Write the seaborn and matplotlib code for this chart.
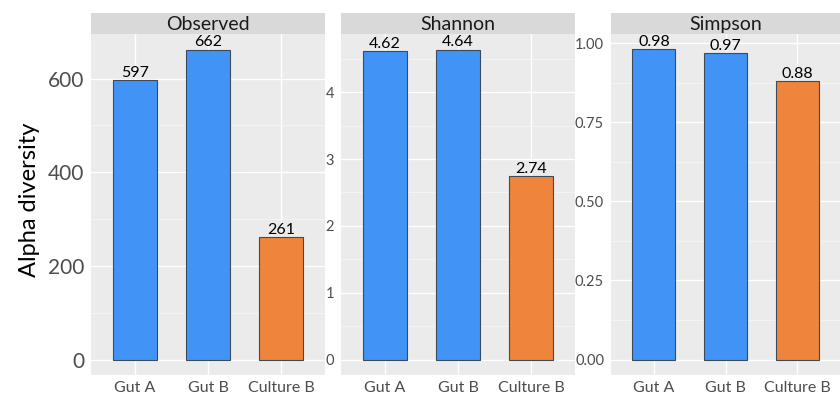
import pandas as pd
import matplotlib.pyplot as plt
import seaborn as sns
from matplotlib.ticker import AutoMinorLocator

# Values.
samples = ["Gut A", "Gut B", "Culture B"]
source = ["Gut", "Gut", "Culture"]
observed = [597, 662, 261]
shannon = [4.62, 4.64, 2.74]
simpson = [0.98, 0.97, 0.88]

metrics = ["Observed", "Shannon", "Simpson"]
values = {"Observed": observed, "Shannon": shannon, "Simpson": simpson}
label_fmt = {"Observed": "{:.0f}", "Shannon": "{:.2f}", "Simpson": "{:.2f}"}
yticks = {"Observed": [0, 200, 400, 600],
          "Shannon": [0, 1, 2, 3, 4],
          "Simpson": [0, 0.25, 0.5, 0.75, 1.0]}
ytick_fmt = {"Observed": "{:.0f}", "Shannon": "{:.0f}", "Simpson": "{:.2f}"}
ytick_size = {"Observed": 15, "Shannon": 10.5, "Simpson": 10.5}

palette = {"Gut": "#4194F6", "Culture": "#EF843C"}

sns.set_theme(style="darkgrid")
plt.rcParams['font.family'] = ['Lato', 'DejaVu Sans']

fig = plt.figure(figsize=(8.4, 3.96), dpi=100)

# panel positions in pixels (left, right)
panels = [(91, 325), (341, 575), (611, 840)]
H, W = 396, 840
bottom_px, top_px, strip_top = 375, 34, 13

for (x0, x1), metric in zip(panels, metrics):
    ax = fig.add_axes([x0 / W, 1 - bottom_px / H, (x1 - x0) / W, (bottom_px - top_px) / H])
    df = pd.DataFrame({"sample": samples, "source": source, "value": values[metric]})
    sns.barplot(data=df, x="sample", y="value", hue="source", palette=palette,
                dodge=False, width=0.6, saturation=1, edgecolor="#3C4A5A",
                linewidth=0.8, legend=False, ax=ax, order=samples)
    ax.set_facecolor("#EBEBEB")
    vmax = max(values[metric])
    ax.set_ylim(-0.05 * vmax, 1.05 * vmax)
    ax.set_xlim(-0.6, 2.6)
    ax.set_yticks(yticks[metric])
    ax.set_yticklabels([ytick_fmt[metric].format(t) for t in yticks[metric]])
    ax.yaxis.set_minor_locator(AutoMinorLocator(2))
    ax.grid(which="major", color="white", linewidth=1.0)
    ax.grid(which="minor", axis="y", color="#F5F5F5", linewidth=0.6)
    ax.set_axisbelow(True)
    for s in ax.spines.values():
        s.set_visible(False)
    ax.tick_params(axis="both", which="major", length=3, color="#4D4D4D",
                   labelcolor="#4D4D4D", pad=2)
    ax.tick_params(axis="y", which="minor", length=0)
    ax.tick_params(axis="y", labelsize=ytick_size[metric])
    ax.tick_params(axis="x", labelsize=11.5, pad=1)
    ax.set_xlabel("")
    ax.set_ylabel("")
    for i, v in enumerate(values[metric]):
        ax.text(i, v, label_fmt[metric].format(v), ha="center", va="bottom",
                fontsize=11.5, color="black")

    # facet strip
    sax = fig.add_axes([x0 / W, 1 - top_px / H, (x1 - x0) / W, (top_px - strip_top) / H])
    sax.set_facecolor("#D9D9D9")
    sax.set_xticks([])
    sax.set_yticks([])
    for s in sax.spines.values():
        s.set_visible(False)
    sax.text(0.5, 0.45, metric, ha="center", va="center", fontsize=14,
             color="#1A1A1A", transform=sax.transAxes)

fig.text(30 / W, 1 - 200 / H, "Alpha diversity", rotation=90, ha="center",
         va="center", fontsize=17, color="black")

fig.savefig("out.png", dpi=100)
